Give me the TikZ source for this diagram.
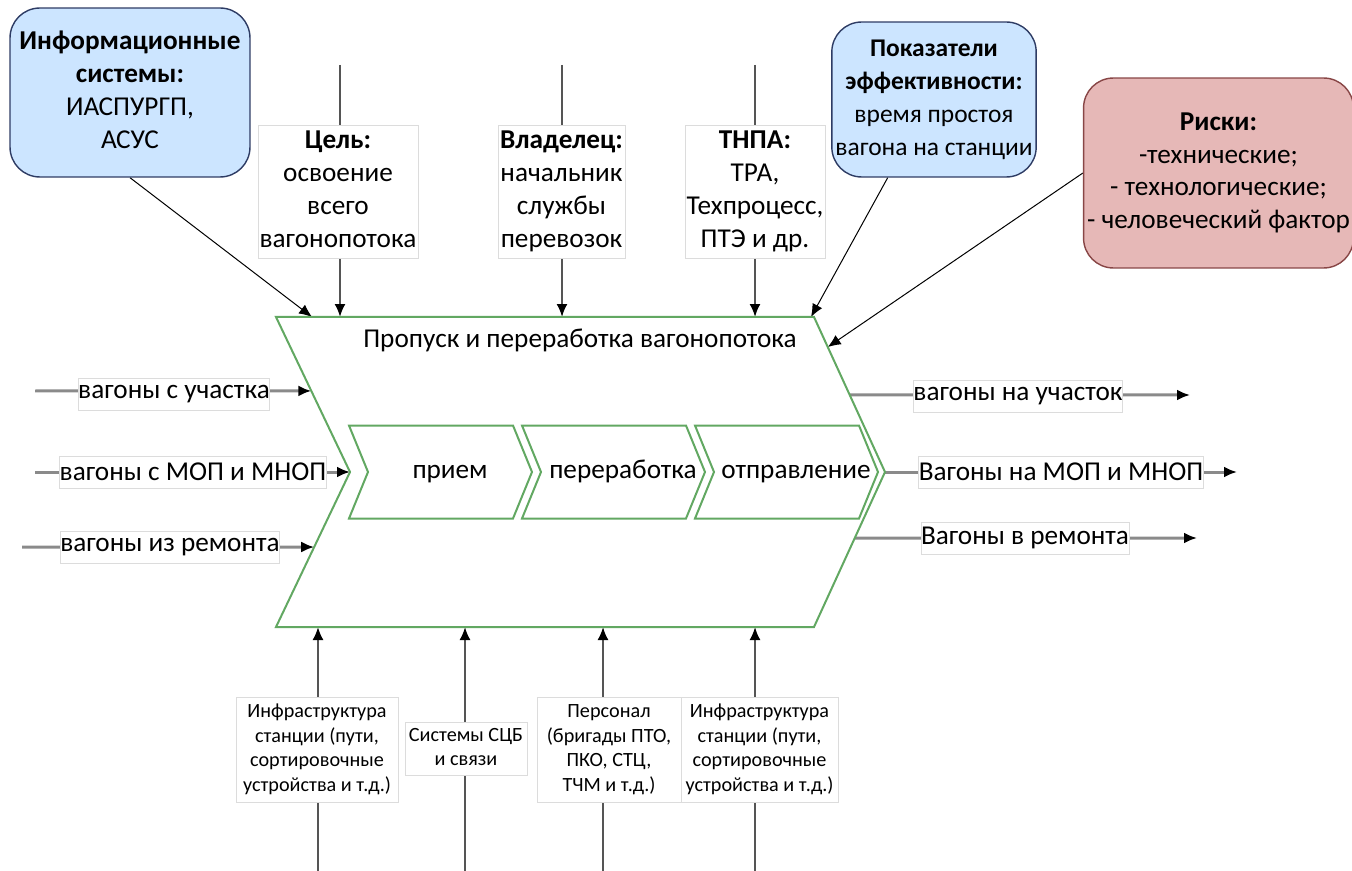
\documentclass[tikz,border=0pt]{standalone}
\usepackage{fontspec}
\setmainfont{Carlito}
\usetikzlibrary{positioning,calc,backgrounds,arrows.meta}

\begin{document}
\begin{tikzpicture}[x=0.02cm, y=-0.02cm]

      \definecolor{lightblue}{HTML}{CCE5FF}
      \definecolor{darkblue}{HTML}{2E3C64}
      \definecolor{lightred}{HTML}{E6B8B7}
      \definecolor{darkred}{HTML}{884646}
      \definecolor{chevgreen}{HTML}{62A862}
      \definecolor{labelgray}{HTML}{DCDCDC}
      \definecolor{linegray}{HTML}{555555}
      \definecolor{flowgray}{HTML}{8A8A8A}

      \tikzstyle{roundbox}  = [rectangle, rounded corners=17pt, thick, inner sep=1pt]
      \tikzstyle{labelbox}  = [rectangle, draw=labelgray, fill=white, inner sep=0pt]
      \tikzstyle{stage}     = [text height=2ex, text depth=0.5ex]
      \tikzstyle{chevron}   = [draw=chevgreen, line width=0.4mm]
      \tikzstyle{connector} = [line width=0.2mm, -{Latex[length=2.6mm, width=2.2mm]}]
      \tikzstyle{control}   = [draw=linegray, line width=0.4mm, -{Latex[color=black, length=2.6mm, width=2.2mm]}]
      \tikzstyle{flow}      = [draw=flowgray, line width=0.6mm, -{Latex[color=black, length=2.6mm, width=2.2mm]}]

      \newcommand{\boxtext}[1]{\fontsize{15.5}{18.7}\selectfont\setlength{\tabcolsep}{1pt}\begin{tabular}{c}#1\end{tabular}}
      \newcommand{\kpitext}[1]{\fontsize{14.5}{18.7}\selectfont\setlength{\tabcolsep}{1pt}\begin{tabular}{c}#1\end{tabular}}
      \newcommand{\smalltext}[1]{\fontsize{11.5}{14.2}\selectfont\setlength{\tabcolsep}{1pt}\begin{tabular}{c}#1\end{tabular}}
      \newcommand{\flowtext}[1]{\fontsize{15.5}{18.7}\selectfont #1}
      \newcommand{\stageshape}[1]{\draw [chevron, shift={(#1)}] (-101,-46.5) -- (63,-46.5) -- (82,0) -- (63,46.5) -- (-101,46.5) -- (-82,0) -- cycle;}

      \useasboundingbox (0,0) rectangle (1352,871);

      % sources of controls
      \node [roundbox, draw=darkblue, fill=lightblue, minimum width=4.8cm,  minimum height=3.38cm] (info)  at (130,92.5)   {\boxtext{\textbf{Информационные}\\\textbf{системы:}\\ИАСПУРГП,\\АСУС}};
      \node [labelbox,                                 minimum width=3.2cm,  minimum height=2.66cm] (goal)  at (338,191.5)  {\boxtext{\textbf{Цель:}\\освоение\\всего\\вагонопотока}};
      \node [labelbox,                                 minimum width=2.54cm, minimum height=2.66cm] (owner) at (561.5,191.5) {\boxtext{\textbf{Владелец:}\\начальник\\службы\\перевозок}};
      \node [labelbox,                                 minimum width=2.68cm, minimum height=2.66cm] (norms) at (755,191.5)  {\boxtext{\textbf{ТНПА:}\\ТРА,\\Техпроцесс,\\ПТЭ и др.}};
      \node [roundbox, draw=darkblue, fill=lightblue, minimum width=3.92cm, minimum height=3.1cm]  (kpi)   at (934,99.5)   {\kpitext{\textbf{Показатели}\\\textbf{эффективности:}\\время простоя\\вагона на станции}};
      \node [roundbox, draw=darkred,  fill=lightred,  minimum width=5.26cm, minimum height=3.8cm]  (risk)  at (1218.5,173) {\boxtext{\textbf{Риски:}\\-технические;\\- технологические;\\- человеческий фактор}};

      % process
      \coordinate (ptl)    at (276,317);
      \coordinate (ptr)    at (814,317);
      \coordinate (ptip)   at (885,472);
      \coordinate (pbr)    at (814,627);
      \coordinate (pbl)    at (276,627);
      \coordinate (pnotch) at (350,472);
      \draw [chevron] (ptl) -- (ptr) -- (ptip) -- (pbr) -- (pbl) -- (pnotch) -- cycle;

      \node (title)          at (580,340) {\flowtext{Пропуск и переработка вагонопотока}};
      \node [stage] (recv)   at (450,472) {\flowtext{прием}};
      \node [stage] (sort)   at (623,472) {\flowtext{переработка}};
      \node [stage] (depart) at (796,472) {\flowtext{отправление}};
      \stageshape{recv}
      \stageshape{sort}
      \stageshape{depart}

      % inputs and outputs
      \node [labelbox, minimum height=0.64cm] (inA)  at (174,394)  {\flowtext{вагоны с участка}};
      \node [labelbox, minimum height=0.64cm] (inB)  at (193,472)  {\flowtext{вагоны с МОП и МНОП}};
      \node [labelbox, minimum height=0.64cm] (inC)  at (170,547)  {\flowtext{вагоны из ремонта}};
      \node [labelbox, minimum height=0.64cm] (outA) at (1018,396) {\flowtext{вагоны на участок}};
      \node [labelbox, minimum height=0.64cm] (outB) at (1061,472) {\flowtext{Вагоны на МОП и МНОП}};
      \node [labelbox, minimum height=0.64cm] (outC) at (1025,538) {\flowtext{Вагоны в ремонта}};

      % mechanisms
      \node [labelbox, minimum width=3.24cm, minimum height=2.1cm]  (infraA)  at (317,749.5) {\smalltext{Инфраструктура\\станции (пути,\\сортировочные\\устройства и т.д.)}};
      \node [labelbox, minimum width=2.44cm, minimum height=1.06cm] (signals) at (466,748.5) {\smalltext{Системы СЦБ\\и связи}};
      \node [labelbox, minimum width=2.88cm, minimum height=2.1cm]  (staff)   at (609,749.5) {\smalltext{Персонал\\(бригады ПТО,\\ПКО, СТЦ,\\ТЧМ и т.д.)}};
      \node [labelbox, minimum width=3.14cm, minimum height=2.1cm]  (infraB)  at (759.5,749.5) {\smalltext{Инфраструктура\\станции (пути,\\сортировочные\\устройства и т.д.)}};

      % free ends
      \coordinate (goaltop)    at (340,65);
      \coordinate (ownertop)   at (562,65);
      \coordinate (normstop)   at (755,65);
      \coordinate (infoend)    at ($(ptl)!0.067!(ptr)$);
      \coordinate (kpiend)     at (811,317);
      \coordinate (riskend)    at ($(ptr)!0.194!(ptip)$);
      \coordinate (inAstart)   at (35,391);
      \coordinate (inBstart)   at (35,472);
      \coordinate (inCstart)   at (22,547);
      \coordinate (inAend)     at ($(ptl)!0.477!(pnotch)$);
      \coordinate (inCend)     at ($(pnotch)!0.484!(pbl)$);
      \coordinate (outAstart)  at ($(ptr)!0.503!(ptip)$);
      \coordinate (outCstart)  at ($(ptip)!0.426!(pbr)$);
      \coordinate (outAend)    at (1190,395);
      \coordinate (outBend)    at (1237,472);
      \coordinate (outCend)    at (1197,538);
      \coordinate (infraAbot)  at (318,871);
      \coordinate (signalsbot) at (465,871);
      \coordinate (staffbot)   at (603,871);
      \coordinate (infraBbot)  at (755,871);

      \begin{scope}[on background layer]
        \draw [connector] (info.south) -- (infoend);
        \draw [connector] ($(kpi.south west)!0.275!(kpi.south east)$) -- (kpiend);
        \draw [connector] (risk.west) -- (riskend);

        \draw [control] (goaltop)  -- (goaltop |- ptl);
        \draw [control] (ownertop) -- (ownertop |- ptl);
        \draw [control] (normstop) -- (normstop |- ptl);

        \draw [flow] (inAstart)  -- (inAend);
        \draw [flow] (inBstart)  -- (pnotch);
        \draw [flow] (inCstart)  -- (inCend);
        \draw [flow] (outAstart) -- (outAend);
        \draw [flow] (ptip)      -- (outBend);
        \draw [flow] (outCstart) -- (outCend);

        \draw [control] (infraAbot)  -- (infraAbot |- pbl);
        \draw [control] (signalsbot) -- (signalsbot |- pbl);
        \draw [control] (staffbot)   -- (staffbot |- pbl);
        \draw [control] (infraBbot)  -- (infraBbot |- pbl);
      \end{scope}

\end{tikzpicture}
\end{document}
